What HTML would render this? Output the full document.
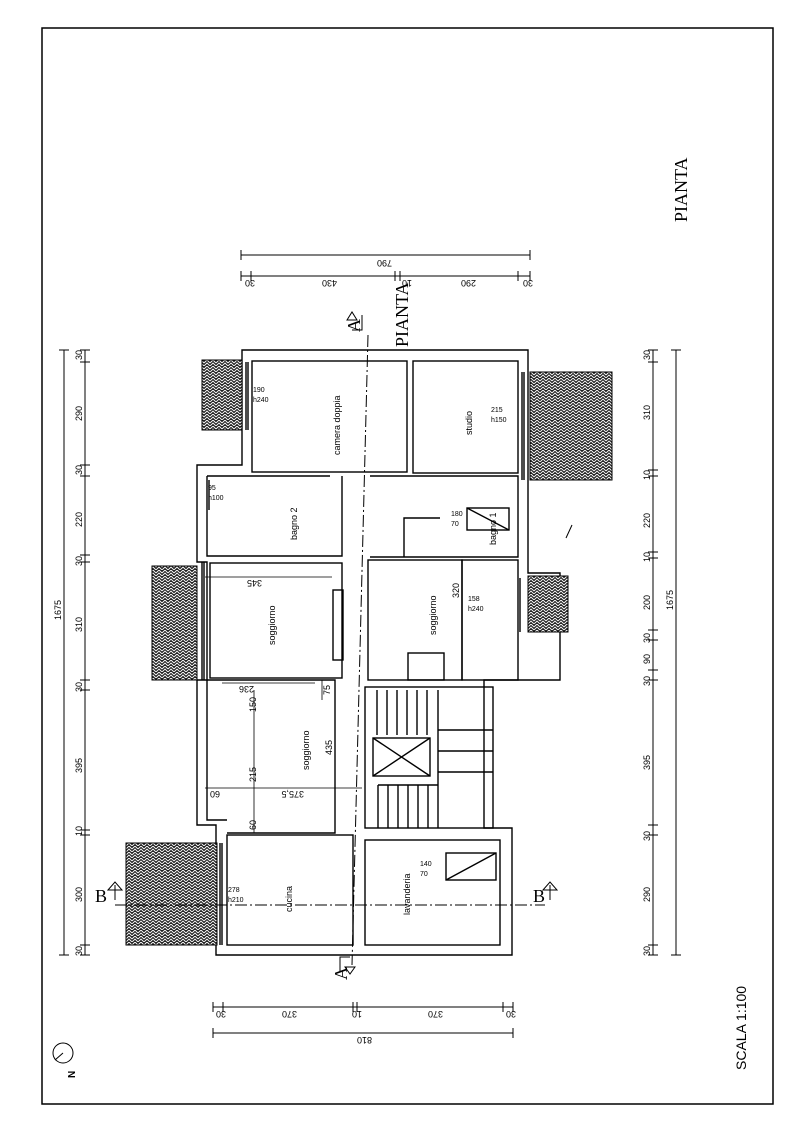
<!DOCTYPE html>
<html><head><meta charset="utf-8"><style>
html,body{margin:0;padding:0;background:#fff;}
svg{display:block;}
text{font-family:"Liberation Sans",sans-serif;fill:#000;}
</style></head><body>
<svg width="800" height="1132" viewBox="0 0 800 1132" xmlns="http://www.w3.org/2000/svg">
<defs>
<pattern id="h" width="6" height="6" patternUnits="userSpaceOnUse">
<rect width="6" height="6" fill="#222"/>
<path d="M0 3 L3 0 L6 3 M0 6 L3 3 L6 6" stroke="#fff" stroke-width="0.9" fill="none"/>
</pattern>
</defs>
<rect x="42" y="28" width="731" height="1076" fill="none" stroke="#000" stroke-width="1.5"/>

<g stroke="#000" stroke-width="1.4" fill="none">
<path d="M242 350 L528 350 L528 573 L560 573 L560 680 L484 680 L484 828 L512 828 L512 955 L216 955 L216 825 L197 825 L197 680 L207 680 L207 562 L197 562 L197 465 L242 465 Z"/>
<rect x="252" y="361" width="155" height="111"/>
<rect x="413" y="361" width="105" height="112"/>
<path d="M207 476 L330 476 M342 476 L342 556 L207 556 L207 476"/>
<path d="M370 476 L518 476 L518 557 L370 557"/>
<path d="M404 557 L404 518 L440 518"/>
<rect x="210" y="563" width="132" height="115"/>
<rect x="368" y="560" width="94" height="120"/>
<rect x="462" y="560" width="56" height="120"/>
<path d="M207 680 L335 680 L335 833 L227 833 M207 680 L207 820 L227 820"/>
<rect x="227" y="835" width="126" height="110"/>
<rect x="365" y="840" width="135" height="105"/>
<rect x="365" y="687" width="128" height="141"/>
<path d="M377 690 L377 735 M387 690 L387 735 M397 690 L397 735 M407 690 L407 735 M417 690 L417 735 M427 690 L427 735 M438 690 L438 828 M438 730 L493 730 M438 751 L493 751 M438 772 L493 772 M378 785 L438 785 M388 785 L388 828 M398 785 L398 828 M408 785 L408 828 M418 785 L418 828 M428 785 L428 828 M378 785 L378 828"/>
<rect x="373" y="738" width="57" height="38"/>
<path d="M373 738 L430 776 M430 738 L373 776"/>
<rect x="446" y="853" width="50" height="27"/>
<path d="M446 880 L496 853"/>
<rect x="467" y="508" width="42" height="22"/>
<path d="M467 508 L509 530"/>
<rect x="333" y="590" width="10" height="70"/>
<rect x="408" y="653" width="36" height="27"/>
<path d="M246 362 L246 430 M248 362 L248 430 M524 372 L524 480 M522 372 L522 480 M202 562 L202 680 M204 562 L204 680 M520 578 L520 632 M222 843 L222 945 M220 843 L220 945 M209 480 L209 510"/>
</g>

<g stroke="#000" stroke-width="1" fill="url(#h)">
<rect x="202" y="360" width="40" height="70"/>
<rect x="530" y="372" width="82" height="108"/>
<rect x="152" y="566" width="45" height="114"/>
<rect x="528" y="576" width="40" height="56"/>
<rect x="126" y="843" width="91" height="102"/>
</g>

<g stroke="#000" stroke-width="1" stroke-dasharray="12,3,2,3" fill="none">
<path d="M368 335 L352 965"/>
<path d="M115 905 L545 905"/>
</g>
<g stroke="#000" stroke-width="1" fill="none">
<path d="M362 315 L362 330 L352 330 M347 320 L352 312 L357 320 Z"/>
<path d="M350 960 L350 975 L340 975 M335 965 L340 958 L345 965 Z" transform="rotate(180 345 966)"/>
<path d="M115 885 L115 900 M108 890 L115 882 L122 890 Z"/>
<path d="M550 885 L550 900 M543 890 L550 882 L557 890 Z"/>
<path d="M241 255 L530 255 M241 276 L530 276 M213 1007 L513 1007 M213 1033 L513 1033"/>
<path d="M85 350 L85 955 M64 350 L64 955 M653 350 L653 955 M676 350 L676 955"/>
<path d="M241 250 V260 M530 250 V260 M241 271 V281 M251 271 V281 M395 271 V281 M400 271 V281 M518 271 V281 M530 271 V281 M213 1002 V1012 M223 1002 V1012 M353 1002 V1012 M357 1002 V1012 M503 1002 V1012 M513 1002 V1012 M213 1028 V1038 M513 1028 V1038"/>
<path d="M80 350 H90 M80 362 H90 M80 465 H90 M80 476 H90 M80 555 H90 M80 562 H90 M80 680 H90 M80 690 H90 M80 830 H90 M80 835 H90 M80 945 H90 M80 955 H90 M59 350 H69 M59 955 H69"/>
<path d="M648 350 H658 M648 362 H658 M648 470 H658 M648 476 H658 M648 552 H658 M648 558 H658 M648 630 H658 M648 640 H658 M648 670 H658 M648 680 H658 M648 825 H658 M648 835 H658 M648 945 H658 M648 955 H658 M671 350 H681 M671 955 H681"/>
<circle cx="63" cy="1053" r="10"/>
<path d="M63 1053 L55 1060"/>
<path d="M572 525 L566 538"/>
</g>

<g stroke="#000" stroke-width="0.8" fill="none">
<path d="M205 577 L332 577 M222 683 L315 683 M205 788 L362 788 M254 690 L254 833 M322 680 L322 700"/>
</g>

<g font-size="9">
<text transform="translate(340,455) rotate(-90)">camera doppia</text>
<text transform="translate(472,435) rotate(-90)">studio</text>
<text transform="translate(297,540) rotate(-90)">bagno 2</text>
<text transform="translate(496,545) rotate(-90)">bagno 1</text>
<text transform="translate(275,645) rotate(-90)">soggiorno</text>
<text transform="translate(436,635) rotate(-90)">soggiorno</text>
<text transform="translate(309,770) rotate(-90)">soggiorno</text>
<text transform="translate(292,912) rotate(-90)">cucina</text>
<text transform="translate(410,915) rotate(-90)">lavanderia</text>
<text transform="translate(459,598) rotate(-90)">320</text>
<text transform="translate(332,755) rotate(-90)">435</text>
<text transform="translate(256,712) rotate(-90)">150</text>
<text transform="translate(256,782) rotate(-90)">215</text>
<text transform="translate(256,830) rotate(-90)">60</text>
<text transform="translate(330,695) rotate(-90)">75</text>
<text transform="translate(262,580) rotate(180)">345</text>
<text transform="translate(254,686) rotate(180)">236</text>
<text transform="translate(304,791) rotate(180)">375,5</text>
<text transform="translate(220,791) rotate(180)">60</text>
</g>
<g font-size="7">
<text x="253" y="392">190</text><text x="253" y="402">h240</text>
<text x="491" y="412">215</text><text x="491" y="422">h150</text>
<text x="208" y="490">95</text><text x="208" y="500">h100</text>
<text x="451" y="516">180</text><text x="451" y="526">70</text>
<text x="468" y="601">158</text><text x="468" y="611">h240</text>
<text x="420" y="866">140</text><text x="420" y="876">70</text>
<text x="228" y="892">278</text><text x="228" y="902">h210</text>
</g>

<g font-size="9">
<text transform="translate(82,360) rotate(-90)">30</text>
<text transform="translate(82,421) rotate(-90)">290</text>
<text transform="translate(82,475) rotate(-90)">30</text>
<text transform="translate(82,527) rotate(-90)">220</text>
<text transform="translate(82,566) rotate(-90)">30</text>
<text transform="translate(82,632) rotate(-90)">310</text>
<text transform="translate(82,692) rotate(-90)">30</text>
<text transform="translate(82,773) rotate(-90)">395</text>
<text transform="translate(82,836) rotate(-90)">10</text>
<text transform="translate(82,902) rotate(-90)">300</text>
<text transform="translate(82,956) rotate(-90)">30</text>
<text transform="translate(61,620) rotate(-90)">1675</text>
<text transform="translate(650,360) rotate(-90)">30</text>
<text transform="translate(650,420) rotate(-90)">310</text>
<text transform="translate(650,480) rotate(-90)">10</text>
<text transform="translate(650,528) rotate(-90)">220</text>
<text transform="translate(650,562) rotate(-90)">10</text>
<text transform="translate(650,610) rotate(-90)">200</text>
<text transform="translate(650,643) rotate(-90)">30</text>
<text transform="translate(650,664) rotate(-90)">90</text>
<text transform="translate(650,686) rotate(-90)">30</text>
<text transform="translate(650,770) rotate(-90)">395</text>
<text transform="translate(650,841) rotate(-90)">30</text>
<text transform="translate(650,902) rotate(-90)">290</text>
<text transform="translate(650,956) rotate(-90)">30</text>
<text transform="translate(673,610) rotate(-90)">1675</text>
<text transform="translate(392,260) rotate(180)">790</text>
<text transform="translate(255,280) rotate(180)">30</text>
<text transform="translate(337,280) rotate(180)">430</text>
<text transform="translate(412,280) rotate(180)">10</text>
<text transform="translate(476,280) rotate(180)">290</text>
<text transform="translate(533,280) rotate(180)">30</text>
<text transform="translate(226,1011) rotate(180)">30</text>
<text transform="translate(297,1011) rotate(180)">370</text>
<text transform="translate(362,1011) rotate(180)">10</text>
<text transform="translate(443,1011) rotate(180)">370</text>
<text transform="translate(516,1011) rotate(180)">30</text>
<text transform="translate(372,1037) rotate(180)">810</text>
</g>

<g font-size="18">
<text x="95" y="902" style="font-family:'Liberation Serif',serif">B</text>
<text x="533" y="902" style="font-family:'Liberation Serif',serif">B</text>
<text transform="translate(360,332) rotate(-90)" style="font-family:'Liberation Serif',serif">A</text>
<text transform="translate(347,980) rotate(-90)" style="font-family:'Liberation Serif',serif">A</text>
<text transform="translate(408,347) rotate(-90)" style="font-family:'Liberation Serif',serif">PIANTA</text>
<text transform="translate(687,222) rotate(-90)" style="font-family:'Liberation Serif',serif">PIANTA</text>
</g>
<text transform="translate(746,1070) rotate(-90)" font-size="14">SCALA  1:100</text>
<text transform="translate(75,1078) rotate(-90)" font-size="10" font-weight="bold">N</text>
</svg>
</body></html>
